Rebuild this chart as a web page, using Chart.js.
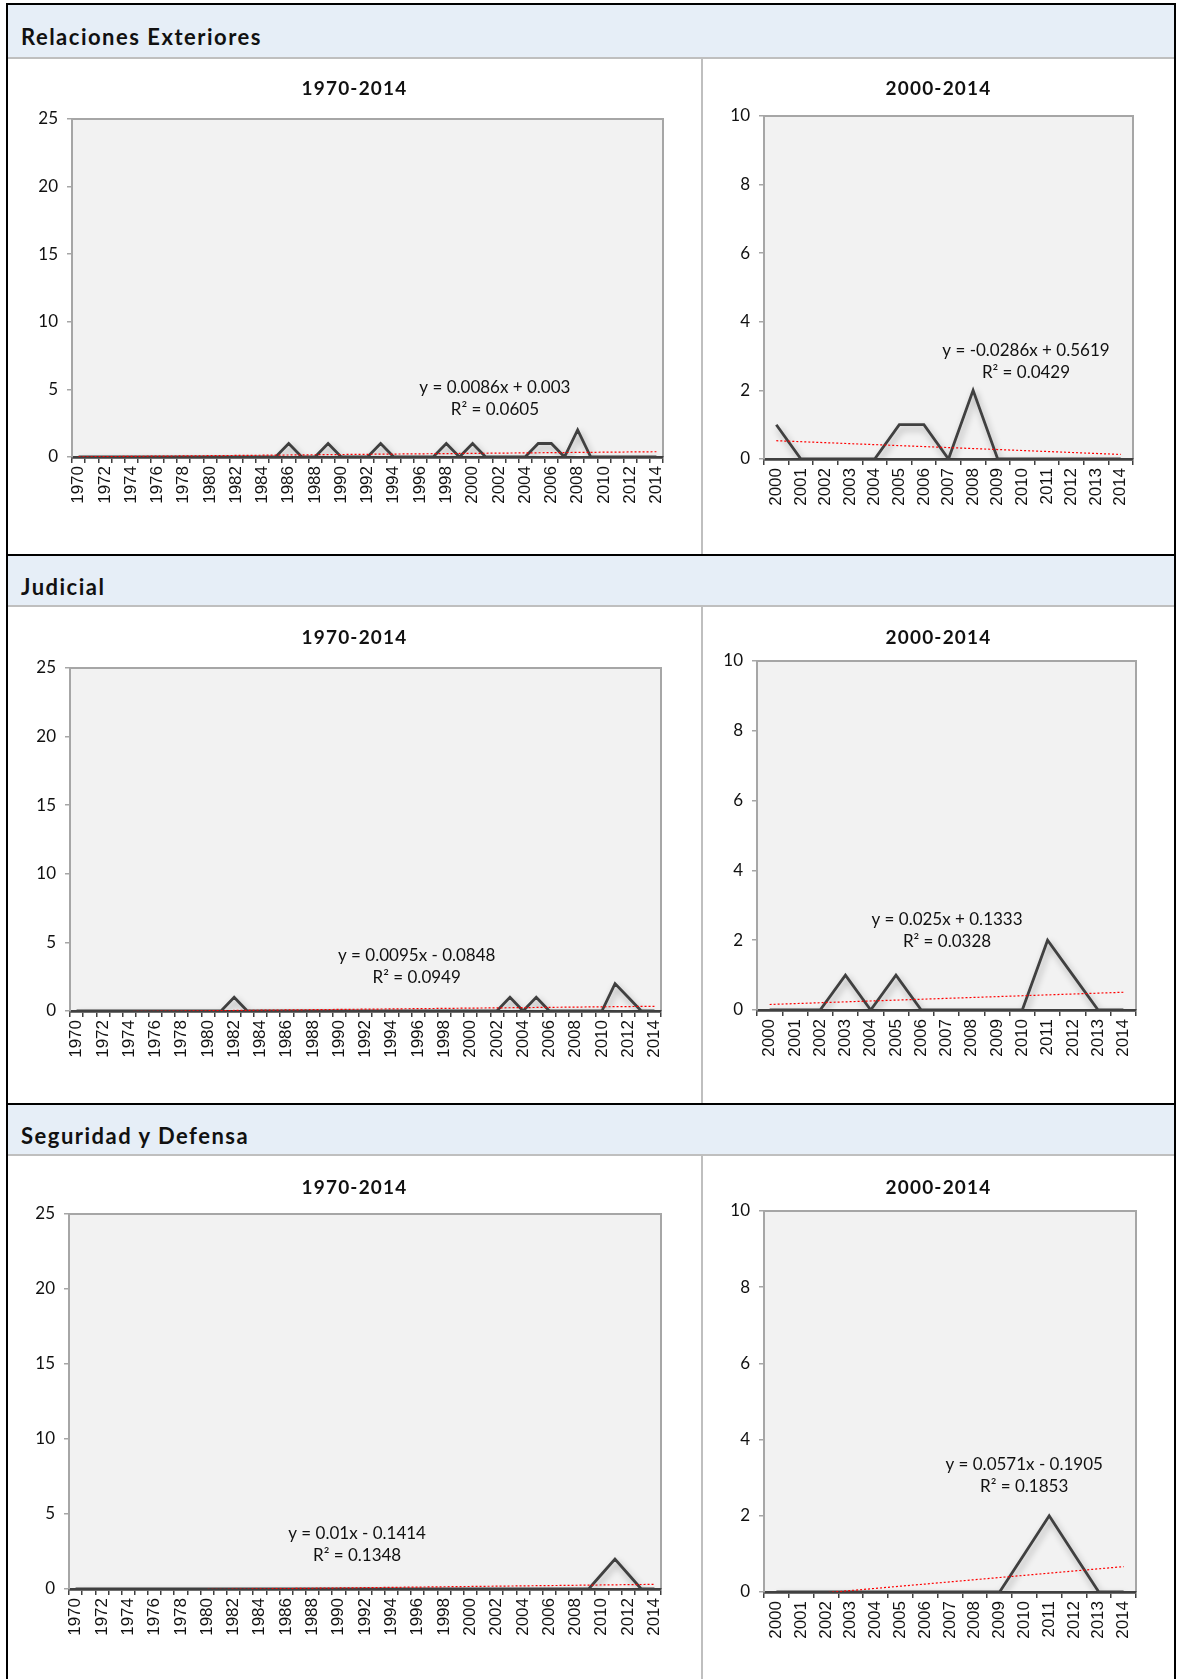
<!DOCTYPE html>
<html>
<head>
<meta charset="utf-8">
<script src="https://cdn.jsdelivr.net/npm/chart.js@4.4.1/dist/chart.umd.min.js"></script>
<style>
  html, body { margin: 0; padding: 0; background: #fff; }
  #page { position: relative; width: 1177px; height: 1679px; overflow: hidden; }
  .rule { position: absolute; background: #000; }
  .grey { position: absolute; background: #bfbfbf; }
  .band { position: absolute; left: 8px; width: 1166px; background: #e6eef7; }
  .band span {
    position: absolute; left: 13px; line-height: 22px;
    font-family: Lato, sans-serif; font-weight: bold; font-size: 22px;
    letter-spacing: 1.5px; color: #111; white-space: nowrap;
  }
  .pane { position: absolute; }
  .pane canvas { display: block; }
</style>
</head>
<body>
<div id="page"></div>
<script>
// ---- categories ----
const yearsLong = ['1970','1971','1972','1973','1974','1975','1976','1977','1978','1979',
  '1980','1981','1982','1983','1984','1985','1986','1987','1988','1989',
  '1990','1991','1992','1993','1994','1995','1996','1997','1998','1999',
  '2000','2001','2002','2003','2004','2005','2006','2007','2008','2009',
  '2010','2011','2012','2013','2014'];
const yearsShort = ['2000','2001','2002','2003','2004','2005','2006','2007','2008','2009',
  '2010','2011','2012','2013','2014'];

// ---- yearly counts ----
const relacionesLong = [0,0,0,0,0,0,0,0,0,0, 0,0,0,0,0,0,1,0,0,1, 0,0,0,1,0,0,0,0,1,0, 1,0,0,0,0,1,1,0,2,0, 0,0,0,0,0];
const relacionesShort = [1,0,0,0,0,1,1,0,2,0,0,0,0,0,0];
const judicialLong = [0,0,0,0,0,0,0,0,0,0, 0,0,1,0,0,0,0,0,0,0, 0,0,0,0,0,0,0,0,0,0, 0,0,0,1,0,1,0,0,0,0, 0,2,1,0,0];
const judicialShort = [0,0,0,1,0,1,0,0,0,0,0,2,1,0,0];
const seguridadLong = [0,0,0,0,0,0,0,0,0,0, 0,0,0,0,0,0,0,0,0,0, 0,0,0,0,0,0,0,0,0,0, 0,0,0,0,0,0,0,0,0,0, 1,2,1,0,0];
const seguridadShort = [0,0,0,0,0,0,0,0,0,0,1,2,1,0,0];

// ---- linear trend coefficients (slope, intercept) as printed on each chart ----
const trendRelacionesLong = [0.0086, 0.003];
const trendRelacionesShort = [-0.0286, 0.5619];
const trendJudicialLong = [0.0095, -0.0848];
const trendJudicialShort = [0.025, 0.1333];
const trendSeguridadLong = [0.01, -0.1414];
const trendSeguridadShort = [0.0571, -0.1905];

// ---- R squared values ----
const r2Values = ['0.0605', '0.0429', '0.0949', '0.0328', '0.1348', '0.1853'];

// ---- section and panel titles ----
const sectionTitles = ['Relaciones Exteriores', 'Judicial', 'Seguridad y Defensa'];
const panelTitles = ['1970-2014', '2000-2014'];

// ---- page frame ----
const page = document.getElementById('page');
function box(cls, x, y, w, h) {
  const d = document.createElement('div');
  d.className = cls;
  d.style.left = x + 'px'; d.style.top = y + 'px';
  d.style.width = w + 'px'; d.style.height = h + 'px';
  page.appendChild(d);
  return d;
}
const sectionTops = [3, 554, 1103];
const sectionBottoms = [554, 1103, 1679];
const titleBottoms = [9, 7, 7];
box('rule', 6, 3, 2, 1676);
box('rule', 1174, 3, 2, 1676);
sectionTops.forEach((top, s) => {
  box('rule', 6, top, 1170, 2);
  const bandH = s === 0 ? 52 : 49;
  const band = box('band', 8, top + 2, 1166, bandH);
  const t = document.createElement('span');
  t.textContent = sectionTitles[s];
  t.style.bottom = titleBottoms[s] + 'px';
  band.appendChild(t);
  box('grey', 8, top + 2 + bandH, 1166, 2);
  box('grey', 701, top + 4 + bandH, 2, sectionBottoms[s] - (top + 4 + bandH));
});

// ---- chart plugins ----
const plotFrame = {
  id: 'plotFrame',
  beforeDraw(chart) {
    const a = chart.chartArea, ctx = chart.ctx;
    ctx.save();
    ctx.fillStyle = '#f2f2f2';
    ctx.fillRect(a.left, a.top, a.right - a.left, a.bottom - a.top);
    ctx.strokeStyle = '#a6a6a6';
    ctx.lineWidth = 2;
    ctx.beginPath();
    ctx.moveTo(a.left, a.bottom);
    ctx.lineTo(a.left, a.top);
    ctx.lineTo(a.right, a.top);
    ctx.lineTo(a.right, a.bottom);
    ctx.stroke();
    ctx.restore();
  }
};

const lineShadow = {
  id: 'lineShadow',
  beforeDatasetDraw(chart, args) {
    if (!chart.data.datasets[args.index].shadow) return;
    const ctx = chart.ctx;
    ctx.save();
    ctx.shadowColor = 'rgba(0,0,0,0.32)';
    ctx.shadowBlur = 7;
    ctx.shadowOffsetX = 2;
    ctx.shadowOffsetY = 4;
  },
  afterDatasetDraw(chart, args) {
    if (!chart.data.datasets[args.index].shadow) return;
    chart.ctx.restore();
  }
};

const annotate = {
  id: 'annotate',
  afterDatasetsDraw(chart, args, o) {
    const ctx = chart.ctx;
    ctx.save();
    ctx.fillStyle = '#111';
    ctx.textAlign = 'center';
    ctx.textBaseline = 'middle';
    ctx.font = 'bold 19px Lato';
    ctx.letterSpacing = '1.2px';
    ctx.fillText(o.title, chart.width / 2, o.titleY);
    ctx.letterSpacing = '0px';
    ctx.font = '17px Lato';
    const x = chart.scales.x.getPixelForValue(o.eqX);
    const y = chart.scales.y.getPixelForValue(o.eqY);
    ctx.fillText(o.eq1, x, y - 11);
    ctx.fillText(o.eq2, x, y + 11);
    ctx.restore();
  }
};

// ---- panel layout: pane rectangles and plot rectangles in page pixels ----
const Y_AXIS_W = 40, X_AXIS_H = 70;
const layoutPanels = [
  { x: 8,   y: 59,   w: 693, h: 495, plot: { l: 72,  r: 663,  t: 119,  b: 457 },  titleY: 30, eq: [31.7, 4.36] },
  { x: 703, y: 59,   w: 471, h: 495, plot: { l: 764, r: 1133, t: 116,  b: 459 },  titleY: 30, eq: [10.15, 2.84] },
  { x: 8,   y: 608,  w: 693, h: 495, plot: { l: 70,  r: 661,  t: 668,  b: 1011 }, titleY: 30, eq: [25.9, 3.24] },
  { x: 703, y: 608,  w: 471, h: 495, plot: { l: 757, r: 1136, t: 661,  b: 1010 }, titleY: 30, eq: [7.02, 2.29] },
  { x: 8,   y: 1157, w: 693, h: 522, plot: { l: 69,  r: 661,  t: 1214, b: 1589 }, titleY: 31, eq: [21.4, 2.97] },
  { x: 703, y: 1157, w: 471, h: 522, plot: { l: 764, r: 1136, t: 1211, b: 1592 }, titleY: 31, eq: [9.99, 3.07] }
];

const panelData = [
  { labels: yearsLong,  values: relacionesLong,  trend: trendRelacionesLong,  max: 25, step: 5, every: 2 },
  { labels: yearsShort, values: relacionesShort, trend: trendRelacionesShort, max: 10, step: 2, every: 1 },
  { labels: yearsLong,  values: judicialLong,    trend: trendJudicialLong,    max: 25, step: 5, every: 2 },
  { labels: yearsShort, values: judicialShort,   trend: trendJudicialShort,   max: 10, step: 2, every: 1 },
  { labels: yearsLong,  values: seguridadLong,   trend: trendSeguridadLong,   max: 25, step: 5, every: 2 },
  { labels: yearsShort, values: seguridadShort,  trend: trendSeguridadShort,  max: 10, step: 2, every: 1 }
];

function fmtSigned(v) {
  return v < 0 ? ' - ' + Math.abs(v) : ' + ' + v;
}

panelData.forEach((d, i) => {
  const L = layoutPanels[i];
  const holder = box('pane', L.x, L.y, L.w, L.h);
  const canvas = document.createElement('canvas');
  canvas.width = L.w; canvas.height = L.h;
  holder.appendChild(canvas);

  const [m, b] = d.trend;
  const trendValues = d.values.map((_, k) => m * (k + 1) + b);

  const pad = {
    left: L.plot.l - L.x - Y_AXIS_W,
    right: L.x + L.w - L.plot.r,
    top: L.plot.t - L.y,
    bottom: L.y + L.h - L.plot.b - X_AXIS_H
  };

  new Chart(canvas, {
    type: 'line',
    data: {
      labels: d.labels,
      datasets: [
        {
          data: d.values, borderColor: '#404040', borderWidth: 2.8,
          pointRadius: 0, tension: 0, fill: false, order: 2, shadow: true
        },
        {
          data: trendValues, borderColor: '#ff0000', borderWidth: 1.2,
          borderDash: [2, 2], pointRadius: 0, tension: 0, fill: false, order: 1
        }
      ]
    },
    options: {
      responsive: false,
      animation: false,
      devicePixelRatio: 1,
      layout: { padding: pad },
      events: [],
      plugins: {
        legend: { display: false },
        tooltip: { enabled: false },
        title: { display: false },
        annotate: {
          title: panelTitles[i % 2],
          titleY: L.titleY,
          eqX: L.eq[0], eqY: L.eq[1],
          eq1: 'y = ' + m + 'x' + fmtSigned(b),
          eq2: 'R\u00B2 = ' + r2Values[i]
        }
      },
      scales: {
        x: {
          type: 'category',
          offset: true,
          afterFit(s) { s.height = X_AXIS_H; },
          grid: { offset: true, drawOnChartArea: false, drawTicks: true, tickLength: 6, color: '#404040', lineWidth: 1.5 },
          border: { display: true, color: '#404040', width: 2.8 },
          ticks: {
            autoSkip: false, minRotation: 90, maxRotation: 90, padding: 3,
            color: '#111', font: { family: 'Liberation Sans', size: 17 },
            callback(v, k) { return k % d.every === 0 ? this.getLabelForValue(v) : ''; }
          }
        },
        y: {
          min: 0, max: d.max,
          afterFit(s) { s.width = Y_AXIS_W; },
          grid: { drawOnChartArea: false, drawTicks: true, tickLength: 5, color: '#a6a6a6', lineWidth: 1.5 },
          border: { display: true, color: '#a6a6a6', width: 2 },
          ticks: { stepSize: d.step, padding: 9, color: '#111', font: { family: 'Lato', size: 17 } }
        }
      }
    },
    plugins: [plotFrame, lineShadow, annotate]
  });
});
</script>
</body>
</html>
